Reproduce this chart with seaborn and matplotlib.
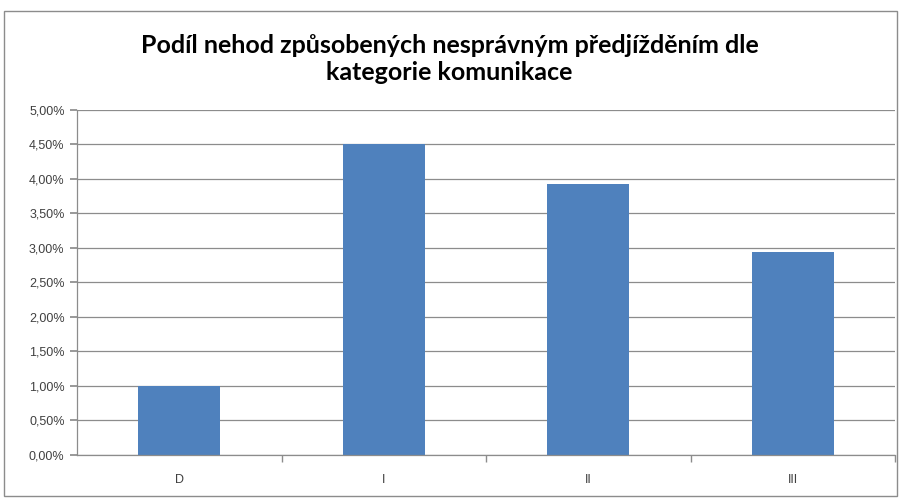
import matplotlib
matplotlib.use("Agg")
import matplotlib.pyplot as plt
import seaborn as sns
import pandas as pd
from matplotlib.patches import Rectangle
from matplotlib.ticker import FuncFormatter, MultipleLocator

# ── Data ──────────────────────────────────────────────────────────────────────
categories = ["D", "I", "II", "III"]
shares     = [1.00, 4.50, 3.93, 2.94]   # percent
TITLE      = "Podíl nehod způsobených nesprávným předjížděním dle\nkategorie komunikace"

BAR_COLOR  = "#4f81bd"
GRID_COLOR = "#8c8c8c"
TEXT_COLOR = "#404040"

df = pd.DataFrame({"kategorie": categories, "podil": shares})

# ── Plot ──────────────────────────────────────────────────────────────────────
sns.set_theme(style="white")
plt.rcParams["font.family"] = ["Liberation Sans", "DejaVu Sans"]

fig = plt.figure(figsize=(8.99, 4.99), dpi=100)
ax = fig.add_axes([0.0857, 0.0882, 0.9099, 0.6914])

sns.barplot(data=df, x="kategorie", y="podil", color=BAR_COLOR,
            saturation=1, width=0.4, linewidth=0, ax=ax)

ax.set_ylim(0, 5)
ax.set_xlim(-0.5, len(categories) - 0.5)
ax.yaxis.set_major_locator(MultipleLocator(0.5))
ax.yaxis.set_major_formatter(
    FuncFormatter(lambda v, _: f"{v:.2f}".replace(".", ",") + "%"))
ax.grid(axis="y", color=GRID_COLOR, lw=0.9)
ax.set_axisbelow(True)
ax.set_xlabel("")
ax.set_ylabel("")

for side in ("top", "right"):
    ax.spines[side].set_visible(False)
for side in ("left", "bottom"):
    ax.spines[side].set_color(GRID_COLOR)
    ax.spines[side].set_linewidth(0.9)

ax.tick_params(axis="y", left=True, length=5, color=GRID_COLOR,
               labelsize=9, labelcolor=TEXT_COLOR, pad=4)
# category ticks sit between the bars, labels centred under them
ax.tick_params(axis="x", bottom=False, labelsize=9,
               labelcolor=TEXT_COLOR, pad=8)
ax.set_xticks([i + 0.5 for i in range(len(categories))], minor=True)
ax.tick_params(axis="x", which="minor", bottom=True, length=5,
               color=GRID_COLOR)

fig.text(0.5, 0.882, TITLE, ha="center", va="center", fontsize=18,
         fontweight="bold", family=["Lato", "DejaVu Sans"],
         color="black", linespacing=1.2)

# chart border
fig.add_artist(Rectangle((4 / 899, 3 / 499), 893 / 899, 485 / 499,
                         transform=fig.transFigure, fill=False,
                         edgecolor="#8c8c8c", lw=1))

plt.savefig("out.png", dpi=100)
plt.close()
